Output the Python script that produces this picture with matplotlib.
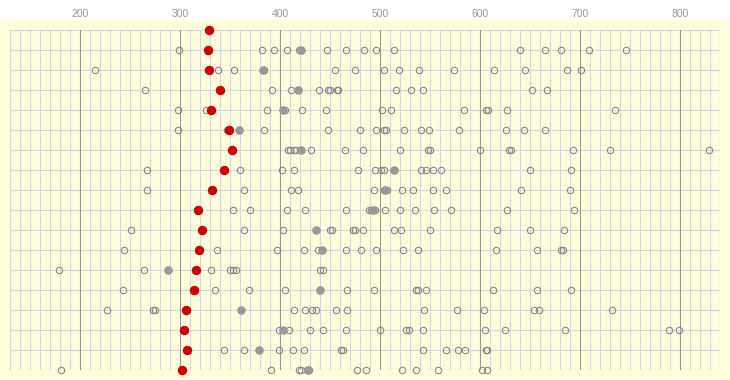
import matplotlib
matplotlib.use("Agg")
import matplotlib.pyplot as plt
from matplotlib.patches import Rectangle
from matplotlib.ticker import MultipleLocator

# 行ごとのデータ (上から下へ)
red_vals = [329, 328, 329, 340, 331, 349, 352, 344, 332, 318,
            322, 319, 316, 314, 306, 304, 307, 302]

gray_vals = [None, 421, 383, 418, 403, 359, 421, 514, 505, 493,
             436, 442, 288, 440, 361, 403, 379, 428]

open_vals = [
    [],
    [299, 382, 394, 407, 419, 447, 466, 484, 496, 514, 640, 665, 681, 709, 746],
    [215, 338, 354, 384, 455, 475, 504, 519, 539, 574, 614, 645, 687, 701],
    [265, 392, 411, 439, 448, 450, 457, 458, 516, 531, 543, 652, 667],
    [298, 326, 387, 405, 422, 446, 502, 511, 584, 606, 608, 627, 735],
    [298, 347, 384, 448, 480, 496, 504, 506, 524, 541, 549, 579, 626, 644, 665],
    [408, 410, 414, 416, 431, 465, 483, 520, 548, 550, 600, 629, 631, 693, 730, 829],
    [267, 360, 402, 414, 478, 495, 501, 504, 541, 546, 553, 561, 650, 691],
    [267, 364, 411, 418, 494, 504, 507, 522, 533, 553, 566, 641, 690],
    [353, 370, 407, 425, 466, 489, 491, 495, 505, 520, 535, 554, 571, 627, 694],
    [251, 364, 403, 450, 452, 473, 475, 483, 514, 521, 550, 617, 650, 684],
    [244, 337, 397, 424, 438, 466, 481, 496, 523, 538, 616, 657, 681, 683],
    [179, 264, 331, 350, 353, 356, 440, 443],
    [243, 335, 369, 405, 467, 494, 536, 538, 546, 613, 657, 691],
    [227, 273, 275, 414, 425, 432, 436, 456, 467, 544, 577, 604, 654, 659, 732],
    [399, 409, 430, 443, 466, 500, 526, 529, 543, 605, 625, 685, 789, 799],
    [344, 364, 399, 413, 424, 461, 463, 543, 566, 578, 585, 606, 607],
    [181, 391, 419, 421, 427, 429, 477, 486, 522, 536, 558, 602, 607],
]

x_ticks = [200, 300, 400, 500, 600, 700, 800]

W, H = 730, 380
bg = "#ffffdd"
grid_c = "#d6d6e2"

plt.rcParams["font.family"] = ["Liberation Sans", "DejaVu Sans"]

fig = plt.figure(figsize=(W / 100, H / 100), dpi=100)
fig.patch.set_facecolor("white")
# 下側の黄色い背景
fig.add_artist(Rectangle((0, 0), 1, (H - 20) / H, transform=fig.transFigure,
                         facecolor=bg, edgecolor="none", zorder=-5))

ax = fig.add_axes([10 / W, 10 / H, 710 / W, 340 / H])
ax.set_facecolor(bg)

n_rows = len(red_vals)
ax.set_xlim(130, 840)
ax.set_ylim(n_rows - 1, 0)

# グリッド
ax.xaxis.set_minor_locator(MultipleLocator(10))
ax.set_xticks(x_ticks)
ax.set_yticks(range(n_rows))
ax.grid(True, which="minor", axis="x", color=grid_c, lw=0.8)
ax.grid(True, which="major", axis="y", color=grid_c, lw=0.8)
for t in x_ticks:
    ax.axvline(t, color="#999999", lw=0.8, zorder=1)
ax.set_axisbelow(True)
for s in ax.spines.values():
    s.set_visible(False)
ax.axvline(840, color=grid_c, lw=0.8)

ax.xaxis.tick_top()
ax.tick_params(axis="x", which="both", length=0, pad=8, labelsize=7.5, labelcolor="#999999")
ax.tick_params(axis="y", length=0, labelleft=False)

# 白抜き
for i, row in enumerate(open_vals):
    if row:
        ax.plot(row, [i] * len(row), "o", ms=4.6, mfc="none", mec="#888888",
                mew=0.8, ls="none", clip_on=False, zorder=3)

# 灰色
for i, v in enumerate(gray_vals):
    if v is not None:
        ax.plot([v], [i], "o", ms=5.2, color="#999999", mec="#999999",
                ls="none", clip_on=False, zorder=4)

# 赤
ax.plot(red_vals, range(n_rows), "o", ms=5.8, color="#cc0000", mec="#cc0000",
        ls="none", clip_on=False, zorder=5)

fig.savefig("out.png", dpi=100, facecolor=fig.get_facecolor())
